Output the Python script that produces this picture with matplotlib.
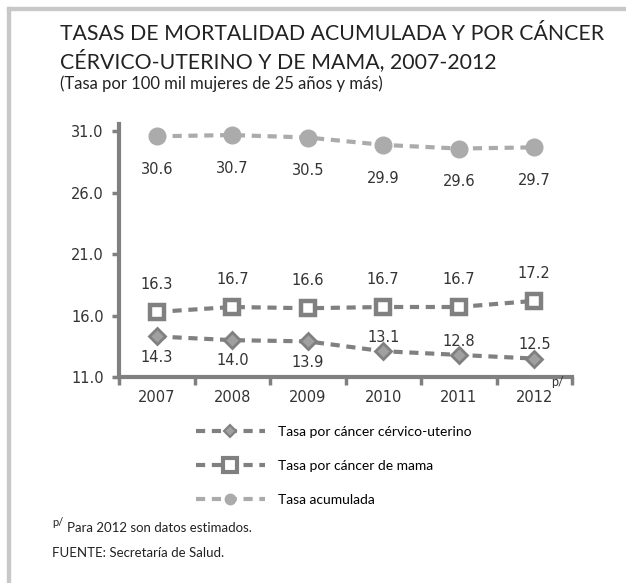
import matplotlib

matplotlib.use("Agg")
import matplotlib.pyplot as plt
from matplotlib.lines import Line2D
from matplotlib.patches import Rectangle

years = ["2007", "2008", "2009", "2010", "2011", "2012"]
cervico = [14.3, 14.0, 13.9, 13.1, 12.8, 12.5]
mama = [16.3, 16.7, 16.6, 16.7, 16.7, 17.2]
acumulada = [30.6, 30.7, 30.5, 29.9, 29.6, 29.7]
yticks = [11.0, 16.0, 21.0, 26.0, 31.0]

# label offsets in points: above (+) or below (-)
cervico_off = [-15, -15, -15, 10, 10, 10]
mama_off = [20, 20, 20, 20, 20, 20]
acum_off = [-24, -24, -24, -24, -24, -24]

TEXT = "Lato"
NUM = "DejaVu Sans"
DARK = "#808080"
LIGHT = "#ababab"
DASH = (0, (2.2, 1.6))

fig = plt.figure(figsize=(6.26, 5.83), dpi=100)
fig.patches.append(Rectangle((7 / 626, 0), 3 / 626, 1 - 7 / 583, transform=fig.transFigure,
                             color="#c8c8c8", zorder=0))
fig.patches.append(Rectangle((7 / 626, 1 - 10 / 583), 1, 3 / 583, transform=fig.transFigure,
                             color="#c8c8c8", zorder=0))

ax = fig.add_axes([119 / 626, 1 - 377 / 583, (572 - 119) / 626, (377 - 124) / 583])
x = list(range(len(years)))

ax.plot(x, acumulada, color=LIGHT, lw=3, ls=DASH, marker="o", ms=12,
        mfc=LIGHT, mec=LIGHT, zorder=3)
ax.plot(x, mama, color=DARK, lw=3, ls=DASH, marker="s", ms=10.5,
        mfc="white", mec=DARK, mew=3.2, zorder=4)
ax.plot(x, cervico, color=DARK, lw=3, ls=DASH, marker="D", ms=8.5,
        mfc="#a0a0a0", mec=DARK, mew=2, zorder=5)

for series, offs in ((acumulada, acum_off), (mama, mama_off), (cervico, cervico_off)):
    for xi, v, o in zip(x, series, offs):
        ax.annotate(f"{v:.1f}", (xi, v), xytext=(0, o), textcoords="offset points",
                    ha="center", va="center", fontsize=10.5, family=NUM, color="#333333",
                    zorder=6)

ax.set_xlim(-0.5, 5.5)
ax.set_ylim(11, 31.6)
ax.set_yticks(yticks)
ax.set_yticklabels([f"{t:.1f}" for t in yticks], family=NUM, fontsize=10.5, color="#333333")
ax.set_xticks(x)
ax.set_xticklabels(years, family=NUM, fontsize=10.5, color="#333333")
ax.set_xticks([i - 0.5 for i in range(len(years) + 1)], minor=True)
ax.tick_params(axis="x", which="major", length=0, pad=9)
ax.tick_params(axis="x", which="minor", length=6, width=2.5, color=DARK, direction="out")
ax.tick_params(axis="y", length=5, width=2.5, color=DARK, pad=6)
for s in ("top", "right"):
    ax.spines[s].set_visible(False)
for s in ("left", "bottom"):
    ax.spines[s].set_color(DARK)
    ax.spines[s].set_linewidth(3)
ax.text(5.22, 11.1, "p/", transform=ax.transData, fontsize=9, family=TEXT, color="#333333",
        ha="left", va="top")

handles = [
    Line2D([], [], color=DARK, lw=3, ls=DASH, marker="D", ms=6,
           mfc="#a0a0a0", mec=DARK, mew=1.5),
    Line2D([], [], color=DARK, lw=3, ls=DASH, marker="s", ms=9.5,
           mfc="white", mec=DARK, mew=3),
    Line2D([], [], color=LIGHT, lw=3, ls=DASH, marker="o", ms=7.5,
           mfc=LIGHT, mec=LIGHT),
]
labels = ["Tasa por cáncer cérvico-uterino", "Tasa por cáncer de mama", "Tasa acumulada"]
fig.legend(handles, labels, loc="upper left", bbox_to_anchor=(190 / 626, 1 - 420 / 583),
           frameon=False, prop={"family": TEXT, "size": 10}, handlelength=5.0,
           labelspacing=1.6, handletextpad=0.9, borderaxespad=0)

fig.text(60 / 626, 1 - 40 / 583, "TASAS DE MORTALIDAD ACUMULADA Y POR CÁNCER",
         family=TEXT, fontsize=15.3, color="#222222", ha="left", va="baseline")
fig.text(60 / 626, 1 - 68 / 583, "CÉRVICO-UTERINO Y DE MAMA, 2007-2012",
         family=TEXT, fontsize=15.3, color="#222222", ha="left", va="baseline")
fig.text(60 / 626, 1 - 89 / 583, "(Tasa por 100 mil mujeres de 25 años y más)",
         family=TEXT, fontsize=12, color="#222222", ha="left", va="baseline")
fig.text(52 / 626, 1 - 526 / 583, "p/", family=TEXT, fontsize=8, color="#222222",
         ha="left", va="baseline")
fig.text(67 / 626, 1 - 532 / 583, "Para 2012 son datos estimados.", family=TEXT,
         fontsize=9.5, color="#222222", ha="left", va="baseline")
fig.text(52 / 626, 1 - 557 / 583, "FUENTE: Secretaría de Salud.", family=TEXT,
         fontsize=9.5, color="#222222", ha="left", va="baseline")

fig.savefig("out.png", dpi=100, facecolor="white")
